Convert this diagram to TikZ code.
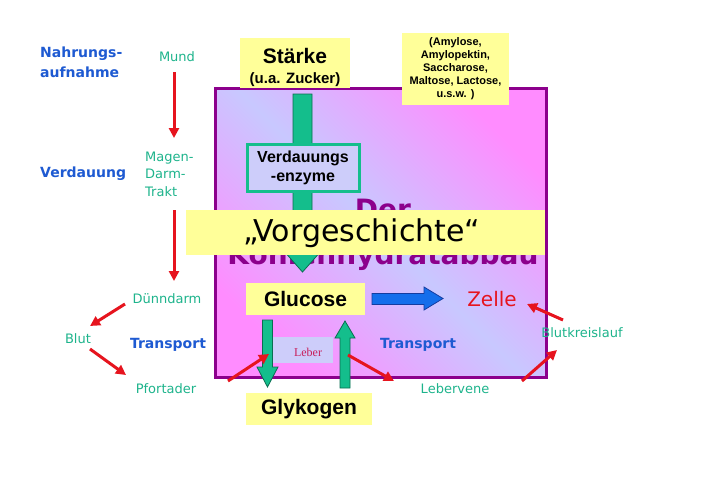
\documentclass[tikz,border=0pt]{standalone}
\usepackage{fontspec}
\setmainfont{Liberation Sans}
\newfontfamily\comic{DejaVu Sans}
\newfontfamily\serifw{Liberation Serif}
\usetikzlibrary{arrows.meta}
\definecolor{ybox}{RGB}{255,255,153}
\definecolor{purp}{RGB}{140,0,140}
\definecolor{pinkc}{RGB}{255,140,255}
\definecolor{lavc}{RGB}{200,200,255}
\definecolor{lavbox}{RGB}{205,205,250}
\definecolor{tealf}{RGB}{20,190,140}
\definecolor{teald}{RGB}{10,110,80}
\definecolor{tealt}{RGB}{30,180,140}
\definecolor{bluet}{RGB}{30,90,210}
\definecolor{redc}{RGB}{230,20,30}
\definecolor{bluef}{RGB}{20,110,235}
\definecolor{blued}{RGB}{20,60,160}
\definecolor{lebert}{RGB}{200,30,90}
\tikzset{
  yb/.style={fill=ybox, draw=none, inner sep=0pt, align=center, text=black},
  lbl/.style={font=\comic\fontsize{13}{17.5}\selectfont, text=tealt, align=left, inner sep=0pt},
  hd/.style={font=\comic\bfseries\fontsize{14}{20}\selectfont, text=bluet, align=left, inner sep=0pt},
  rarr/.style={draw=redc, line width=3pt, -{Triangle[length=10pt,width=10pt]}},
  garr/.style={fill=tealf, draw=teald, line width=0.8pt},
  titel/.style={font=\comic\bfseries\fontsize{28}{30}\selectfont, text=purp, inner sep=0pt, anchor=base},
  btxt/.style={inner sep=0pt, anchor=base, text=black},
}
\begin{document}
\begin{tikzpicture}[x=1pt,y=-1pt]
\useasboundingbox (0,0) rectangle (720,498);
\fill[white] (0,0) rectangle (720,498);

% main box
\shade[top color=pinkc, bottom color=pinkc, middle color=lavc, shading angle=-45]
  (215,88) rectangle (546,377);
\draw[purp, line width=3pt] (215,88) rectangle (546,377);

% title (mostly hidden)
\node[titel] (der) at (383,219) {Der};
\node[titel] (kohl) at (383,264) {Kohlenhydratabbau};

% green arrow starch -> glucose
\filldraw[garr] (293,94) -- (312,94) -- (312,250) -- (322,250) -- (302.5,272)
  -- (283,250) -- (293,250) -- cycle;

% boxes
\node[yb, minimum width=110, minimum height=50] (staerke) at (295,63) {};
\node[btxt, font=\bfseries\fontsize{21}{24}\selectfont] (staerket) at (295,63) {Stärke};
\node[btxt, font=\bfseries\fontsize{15}{18}\selectfont] (zucker) at (295,83) {(u.a. Zucker)};
\node[yb, minimum width=107, minimum height=72, font=\bfseries\fontsize{11}{13}\selectfont] (amyl) at (455.5,69)
  {(Amylose,\\Amylopektin,\\Saccharose,\\Maltose, Lactose,\\u.s.w. )};
\node[fill=lavbox, draw=tealf, line width=3pt, minimum width=112, minimum height=47,
  inner sep=0pt, align=center, font=\bfseries\fontsize{16}{18.5}\selectfont] (enzym) at (303,168)
  {Verdauungs\\-enzyme};

% banner
\node[yb, minimum width=359, minimum height=45] (banner) at (365.5,232.5) {};
\node[font=\comic\fontsize{30}{32}\selectfont, inner sep=0pt, anchor=base] (vorg) at (362,241)
  {„Vorgeschichte“};

% leber area
\fill[lavbox] (272,337) rectangle (333,363);
\node[font=\serifw\fontsize{12}{14}\selectfont, text=lebert, inner sep=0pt] (leber) at (308,352) {Leber};

% glucose / glykogen
\node[yb, minimum width=119, minimum height=32, font=\bfseries\fontsize{21}{22}\selectfont] (gluc) at (305.5,299)
  {Glucose};
\node[yb, minimum width=126, minimum height=32, font=\bfseries\fontsize{21}{22}\selectfont] (glyk) at (309,409)
  {Glykogen};

% green arrows glucose <-> glykogen
\filldraw[garr] (262.5,320) -- (272.5,320) -- (272.5,367) -- (278,367) -- (267.5,387)
  -- (257,367) -- (262.5,367) -- cycle;
\filldraw[garr] (340,388) -- (350,388) -- (350,338) -- (355,338) -- (345,321)
  -- (335,338) -- (340,338) -- cycle;

% blue arrow glucose -> zelle
\filldraw[fill=bluef, draw=blued, line width=0.8pt] (372,293.5) -- (424,293.5) -- (424,287)
  -- (443,298.5) -- (424,310) -- (424,304.5) -- (372,304.5) -- cycle;
\node[font=\comic\fontsize{20}{22}\selectfont, text=redc, inner sep=0pt] (zelle) at (492,299) {Zelle};

% left column
\node[hd, anchor=west] (nahr) at (40,62) {Nahrungs-\\aufnahme};
\node[hd, anchor=west] (verd) at (40,174) {Verdauung};
\node[hd] (trans1) at (168,345) {Transport};
\node[hd] (trans2) at (418,345) {Transport};

\node[lbl] (mund) at (177,57) {Mund};
\node[lbl, anchor=west] (magen) at (145,174) {Magen-\\Darm-\\Trakt};
\node[lbl] (duenn) at (167,299) {Dünndarm};
\node[lbl] (blut) at (78,339) {Blut};
\node[lbl] (pfort) at (166,389) {Pfortader};
\node[lbl] (lebv) at (455,389) {Lebervene};
\node[lbl] (bkl) at (582,333) {Blutkreislauf};

% red arrows
\coordinate (r1a) at (174,72);   \coordinate (r1b) at (174,138);
\coordinate (r2a) at (174,210);  \coordinate (r2b) at (174,281);
\coordinate (r3a) at (125,304);  \coordinate (r3b) at (90,326);
\coordinate (r4a) at (90,349);   \coordinate (r4b) at (126,375);
\coordinate (r5a) at (228,381);  \coordinate (r5b) at (269,354);
\coordinate (r6a) at (348,355);  \coordinate (r6b) at (394,381);
\coordinate (r7a) at (522,381);  \coordinate (r7b) at (557,350);
\coordinate (r8a) at (563,320);  \coordinate (r8b) at (527,304);
\draw[rarr] (r1a) -- (r1b);
\draw[rarr] (r2a) -- (r2b);
\draw[rarr] (r3a) -- (r3b);
\draw[rarr] (r4a) -- (r4b);
\draw[rarr] (r5a) -- (r5b);
\draw[rarr] (r6a) -- (r6b);
\draw[rarr] (r7a) -- (r7b);
\draw[rarr] (r8a) -- (r8b);
\end{tikzpicture}
\end{document}
